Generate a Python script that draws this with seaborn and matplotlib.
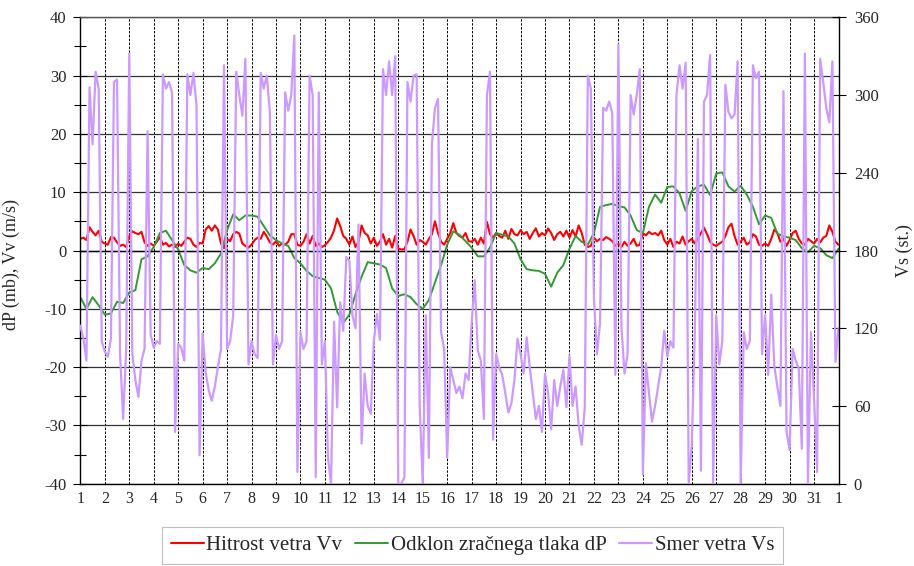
import numpy as np
import matplotlib
matplotlib.use('Agg')
import matplotlib.pyplot as plt
from matplotlib.ticker import MultipleLocator
import seaborn as sns

# Hitrost vetra Vv (m/s), vrednosti na 3 ure
hitrost = [
    2.0, 2.2, 1.8, 4.0, 3.2, 2.6, 3.4, 1.5,
    1.2, 1.0, 2.3, 2.2, 1.4, 0.8, 1.0, 0.6,
    2.5, 3.3, 3.0, 2.8, 3.2, 1.4, 0.8, 1.2,
    0.8, 1.5, 2.3, 1.0, 1.3, 0.7, 1.0, 0.6,
    1.2, 0.8, 1.5, 2.2, 2.0, 1.0, 0.6, 1.3,
    1.2, 3.6, 4.2, 3.4, 4.3, 3.6, 1.2, 0.4,
    2.0, 1.6, 2.8, 3.2, 2.9, 1.2, 0.8, 0.5,
    1.0, 1.8, 2.2, 2.0, 3.2, 2.4, 1.4, 1.0,
    1.6, 0.8, 1.2, 1.0, 1.5, 2.8, 2.8, 1.0,
    0.8, 1.5, 2.8, 1.2, 2.5, 0.8, 1.2, 0.6,
    0.9, 1.5, 2.2, 3.5, 5.5, 4.2, 2.5, 2.0,
    1.0, 2.4, 0.6, 1.5, 4.3, 3.0, 2.6, 1.2,
    2.2, 0.8, 1.5, 2.8, 1.0, 2.0, 0.5, 2.5,
    0.3, 0.2, 0.2, 1.5, 3.6, 2.5, 1.0, 1.8,
    1.5, 1.0, 2.0, 2.8, 5.0, 3.0, 1.5, 1.0,
    2.0, 3.0, 4.7, 3.0, 2.5, 2.2, 3.0, 1.6,
    1.5, 2.0, 1.0, 2.2, 1.2, 4.9, 2.8, 2.2,
    3.0, 2.5, 2.2, 3.4, 2.0, 3.7, 2.8, 2.6,
    3.5, 2.8, 3.2, 2.0, 3.0, 3.8, 2.4, 3.0,
    2.6, 3.8, 3.0, 1.8, 2.8, 3.2, 2.4, 3.4,
    2.2, 3.5, 2.4, 4.3, 3.0, 1.0, 0.6, 0.8,
    2.2, 1.6, 2.0, 1.8, 2.3, 2.0, 1.6, 0.8,
    1.2, 0.6, 1.5, 0.8, 1.2, 2.0, 0.8, 1.0,
    3.0, 2.6, 3.2, 2.8, 3.0, 2.6, 3.4, 1.8,
    1.0, 2.0, 0.6, 1.5, 1.2, 2.4, 1.0, 1.6,
    2.0, 1.2, 2.0, 3.0, 3.9, 2.8, 1.5, 1.0,
    0.8, 1.2, 1.5, 2.5, 4.0, 4.6, 2.5, 1.0,
    1.5, 2.2, 1.0, 1.4, 2.8, 2.4, 1.0, 0.8,
    1.2, 0.8, 2.0, 3.6, 3.0, 1.5, 2.0, 0.8,
    1.8, 3.0, 3.4, 2.0, 1.2, 1.0, 2.0, 1.6,
    1.2, 2.0, 1.4, 2.2, 2.5, 4.3, 3.2, 1.5,
    1.0,
]

# Odklon zracnega tlaka dP (mb), vrednosti na 6 ur
odklon = [
    -8.0, -10.0, -8.0, -9.4,
    -11.0, -10.8, -8.8, -9.0,
    -7.2, -6.8, -1.5, -1.0,
    0.6, 3.0, 3.4, 1.8,
    0.2, -2.5, -3.4, -3.8,
    -3.0, -3.2, -2.2, -0.5,
    3.5, 6.2, 5.2, 6.0,
    6.0, 5.8, 4.2, 2.6,
    1.8, 1.2, 0.8, -1.3,
    -2.2, -3.5, -4.4, -4.7,
    -5.0, -6.5, -10.5, -12.4,
    -11.0, -7.5, -4.5, -2.0,
    -2.2, -2.4, -3.0, -6.5,
    -7.8, -7.5, -8.0, -9.2,
    -10.0, -8.5, -5.5, -2.5,
    1.0, 3.3, 2.7, 1.6,
    0.5, -1.0, -1.0, 0.5,
    3.0, 2.7, 2.4, 1.2,
    -1.5, -3.2, -3.4, -3.5,
    -4.0, -6.2, -3.8, -2.5,
    0.3, 2.5, 1.5, 1.0,
    3.0, 7.5, 7.8, 8.0,
    7.6, 7.4, 6.0, 3.5,
    3.0, 7.5, 9.6, 8.2,
    10.9, 11.0, 9.8, 6.8,
    10.2, 11.0, 11.3, 9.5,
    13.2, 13.4, 11.0, 10.1,
    11.1, 9.6, 7.5, 4.5,
    6.0, 5.6, 2.9, 2.4,
    2.2, 1.8, 0.4, -0.3,
    0.8, 0.4, -0.8, -1.3,
    0.3,
]

# Smer vetra Vs (stopinje), vrednosti na 3 ure
smer = [
    122, 112, 95, 306, 262, 318, 305, 110,
    102, 98, 112, 310, 312, 100, 50, 104,
    332, 100, 80, 67, 95, 104, 272, 115,
    105, 110, 108, 316, 305, 310, 302, 40,
    108, 105, 95, 316, 300, 317, 292, 22,
    116, 86, 72, 64, 75, 90, 104, 323,
    104, 110, 130, 318, 300, 284, 328, 92,
    110, 100, 97, 317, 305, 315, 287, 92,
    115, 104, 110, 302, 288, 300, 346, 9,
    117, 104, 110, 315, 300, 5, 302, 92,
    110, 20, 0, 125, 59, 140, 118, 175,
    172, 130, 120, 200, 31, 85, 60, 54,
    110, 131, 111, 320, 300, 326, 300, 330,
    0, 0, 5, 310, 295, 315, 316, 60,
    0, 130, 20, 262, 290, 297, 117, 104,
    20, 90, 80, 70, 75, 66, 85, 80,
    124, 157, 103, 95, 50, 300, 318, 34,
    100, 90, 84, 70, 55, 62, 80, 112,
    100, 85, 113, 90, 70, 50, 60, 40,
    85, 70, 42, 80, 60, 75, 88, 59,
    99, 60, 75, 45, 30, 59, 315, 305,
    143, 100, 124, 290, 288, 295, 286, 84,
    339, 121, 85, 100, 300, 285, 300, 320,
    7, 93, 70, 48, 60, 75, 90, 118,
    98, 110, 105, 300, 323, 305, 325, 0,
    30, 117, 266, 10, 295, 300, 331, 0,
    130, 92, 110, 308, 287, 282, 285, 326,
    0, 117, 104, 110, 323, 313, 318, 100,
    130, 84, 146, 91, 75, 60, 303, 40,
    26, 104, 95, 89, 27, 332, 0, 117,
    66, 9, 328, 310, 290, 279, 326, 94,
    120,
]

dnevi = [str(d) for d in range(1, 32)] + ['1']

# cas v dnevih od zacetka meseca
t3 = np.arange(len(hitrost)) / 8
t6 = np.arange(len(odklon)) / 4

sns.set_style('white')
plt.rcParams['font.family'] = ['Liberation Serif', 'DejaVu Serif']
plt.rcParams['axes.unicode_minus'] = False

fig = plt.figure(figsize=(9.14, 5.66), dpi=100)
ax = fig.add_axes([0.0879, 0.1454, 0.8295, 0.824])
ax2 = ax.twinx()

sns.lineplot(x=t3, y=hitrost, ax=ax, color='#ff0000', lw=1.5,
             label='Hitrost vetra Vv', legend=False)
sns.lineplot(x=t6, y=odklon, ax=ax, color='#339933', lw=1.4,
             label='Odklon zračnega tlaka dP', legend=False)
sns.lineplot(x=t3, y=smer, ax=ax2, color='#cc99ff', lw=1.6,
             label='Smer vetra Vs', legend=False)

ax.set_xlim(0, 31)
ax.set_ylim(-40, 40)
ax2.set_ylim(0, 360)

# leva os
ax.yaxis.set_major_locator(MultipleLocator(10))
ax.yaxis.set_minor_locator(MultipleLocator(5))
ax.tick_params(axis='y', which='major', direction='inout', length=10, width=0.8,
               labelsize=12, pad=5, color='black')
ax.tick_params(axis='y', which='minor', direction='inout', length=8, width=0.8, color='black')
ax.grid(axis='y', which='major', color='#333333', lw=0.9, ls='-')

# x os na nivoju 0, z oznakami vsakih 6 ur
ax.xaxis.set_major_locator(MultipleLocator(1))
ax.xaxis.set_minor_locator(MultipleLocator(0.25))
ax.spines['bottom'].set_position(('data', 0))
ax.tick_params(axis='x', which='both', direction='inout', length=7, width=0.8,
               labelbottom=False, color='black')
ax.grid(axis='x', which='major', color='black', lw=0.7, ls=(0, (2.5, 1.5)))
ax.set_axisbelow(True)

sec = ax.secondary_xaxis('bottom')
sec.set_xticks(list(range(32)))
sec.set_xticklabels(dnevi)
sec.tick_params(length=0, labelsize=11.5, pad=5)
sec.spines['bottom'].set_color('black')
sec.spines['bottom'].set_linewidth(1.0)

for s in ['left', 'bottom']:
    ax.spines[s].set_color('black')
    ax.spines[s].set_linewidth(1.0)
ax.spines['top'].set_color('#555555')
ax.spines['top'].set_linewidth(1.0)
ax.spines['right'].set_visible(False)

# desna os
ax2.set_yticks(list(range(0, 361, 60)))
ax2.tick_params(axis='y', direction='inout', length=10, width=0.8, labelsize=12,
                pad=6, color='black')
for s in ['left', 'top', 'bottom']:
    ax2.spines[s].set_visible(False)
ax2.spines['right'].set_color('black')
ax2.spines['right'].set_linewidth(1.0)
ax2.grid(False)

ax.set_xlabel('')
ax.set_ylabel('dP (mb), Vv (m/s)', fontsize=13)
ax.yaxis.set_label_coords(-0.080, 0.469)
ax2.set_ylabel('Vs (st.)', fontsize=13, labelpad=12)

h1, l1 = ax.get_legend_handles_labels()
h2, l2 = ax2.get_legend_handles_labels()
leg = fig.legend(h1 + h2, l1 + l2, loc='lower center', bbox_to_anchor=(0.517, -0.014),
                 ncol=3, frameon=True, fancybox=False, edgecolor='#b0b0b0',
                 fontsize=15, handlelength=1.6, handletextpad=0.12,
                 columnspacing=0.6, borderpad=0.4)
leg.get_frame().set_linewidth(0.8)

fig.savefig('out.png', dpi=100)
